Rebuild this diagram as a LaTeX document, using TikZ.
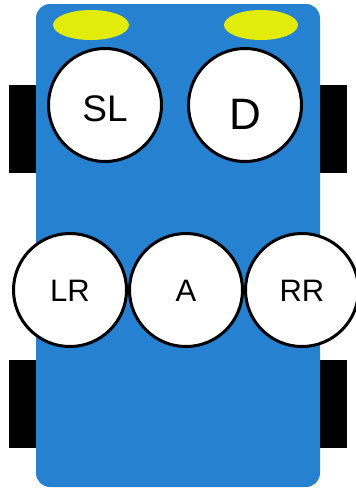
\documentclass[tikz,border=0pt]{standalone}
\usepackage{fontspec}
\setmainfont{Liberation Sans}
\usetikzlibrary{positioning}
\definecolor{bodyblue}{RGB}{38,129,208}
\definecolor{lampyellow}{RGB}{226,236,10}

\begin{document}
\begin{tikzpicture}[x=1pt, y=-1pt, thick, node distance=116pt]
		
		% Define styles
		\tikzstyle{sensor} = [circle, draw, line width=3pt, fill=white, minimum size=113pt, inner sep=0pt, text depth=0pt, text centered]
		\tikzstyle{wheel} = [fill=black]
		\tikzstyle{lamp} = [fill=lampyellow]
		
		\useasboundingbox (0,0) rectangle (356,488);
		
		% Body, wheels and lamps
		\fill[wheel] (9,85) rectangle (36,173);
		\fill[wheel] (9,360) rectangle (36,448);
		\fill[wheel] (320,85) rectangle (347,173);
		\fill[wheel] (320,360) rectangle (347,448);
		\fill[bodyblue, rounded corners=14pt] (36,4) rectangle (320,487);
		\fill[lamp] (91,25) ellipse (38pt and 15pt);
		\fill[lamp] (261,25) ellipse (37pt and 15pt);
		
		% Nodes
		\node[sensor, font=\fontsize{37}{37}\selectfont, text height=32.5pt] (sl) at (105,105) {SL};
		\node[sensor, right of=sl, node distance=140pt, font=\fontsize{44}{44}\selectfont, text height=49.5pt] (d) {D};
		\node[sensor, font=\fontsize{31}{31}\selectfont, text height=22.2pt] (lr) at (70,290) {LR};
		\node[sensor, right of=lr, font=\fontsize{31}{31}\selectfont, text height=22.2pt] (a) {A};
		\node[sensor, right of=a, font=\fontsize{31}{31}\selectfont, text height=22.2pt] (rr) {RR};
		
	\end{tikzpicture}
\end{document}
